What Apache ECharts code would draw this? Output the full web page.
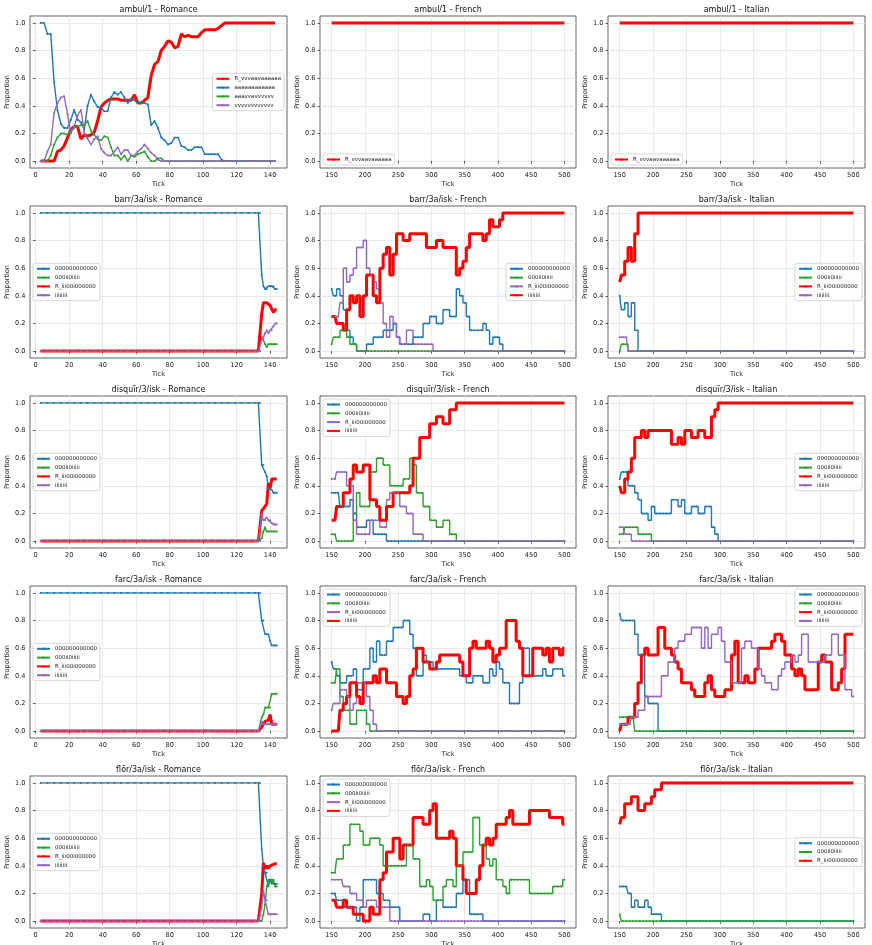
<!DOCTYPE html>
<html><head><meta charset="utf-8">
<script src="https://cdn.jsdelivr.net/npm/echarts@6/dist/echarts.min.js"></script>
<style>html,body{margin:0;padding:0;background:#fff}#c{width:872px;height:945px}</style>
</head><body><div id="c"></div><script>
// ---------- tick (x) arrays ----------
const tickR = [3,5,7,9,11,13,15,17,19,21, 23,25,27,29,31,33,35,37,39,41, 43,45,47,49,51,53,55,57,59,61, 63,65,67,69,71,73,75,77,79,81, 83,85,87,89,91,93,95,97,99,101, 103,105,107,109,111,113,115,117,119,121, 123,125,127,129,131,133,135,137,139,141, 143];
const tickRF = [3,7,11,15,19,23,27,31,35,39, 43,47,51,55,59,63,67,71,75,79, 83,87,91,95,99,103,107,111,115,119, 123,127,131,133,134, 135,136,137,138,139,140,141,142,143,144];
const tickFI = [150,155,160,165,170,175,180,185,190,195, 200,205,210,215,220,225,230,235,240,245, 250,255,260,265,270,275,280,285,290,295, 300,305,310,315,320,325,330,335,340,345, 350,355,360,365,370,375,380,385,390,395, 400,405,410,415,420,425,430,435,440,445, 450,455,460,465,470,475,480,485,490,495, 500];
const xTicksR = [0,20,40,60,80,100,120,140];
const xTicksFI = [150,200,250,300,350,400,450,500];
const yTicks = [0,0.2,0.4,0.6,0.8,1.0];

// ---------- ambul/1 ----------
const ambulR_red = [0,0,0,0,0,.07,.08,.11,.17,.23, .25,.25,.16,.19,.18,.19,.21,.29,.39,.42, .44,.45,.45,.45,.44,.44,.44,.44,.48,.42, .42,.44,.46,.62,.7,.72,.8,.83,.87,.86, .82,.83,.92,.9,.91,.9,.9,.9,.93,.95, .95,.95,.95,.96,.98,1,1,1,1,1, 1,1,1,1,1,1,1,1,1,1, 1];
const ambulR_a = [1,1,.92,.92,.57,.37,.27,.24,.24,.3, .37,.3,.28,.23,.4,.48,.43,.39,.39,.36, .36,.46,.5,.48,.5,.46,.42,.45,.44,.42, .42,.42,.41,.26,.29,.24,.17,.15,.12,.13, .17,.17,.11,.1,.08,.08,.1,.1,.1,.05, .05,.05,.05,.05,.01,0,0,0,0,0, 0,0,0,0,0,0,0,0,0,0, 0];
const ambulR_av = [0,0,0,.04,.12,.17,.2,.2,.19,.22, .24,.25,.26,.26,.29,.22,.19,.16,.15,.18, .17,.1,.04,.04,.01,.04,0,.04,.03,.05, .06,.07,.03,0,0,.02,.02,0,0,0, 0,0,0,0,0,0,0,0,0,0, 0,0,0,0,0,0,0,0,0,0, 0,0,0,0,0,0,0,0,0,0, 0];
const ambulR_v = [0,0,.07,.12,.35,.42,.46,.47,.34,.2, .25,.33,.37,.21,.16,.12,.16,.18,.09,.06, .04,.04,.07,.1,.05,.08,.08,.04,.04,.07, .09,.12,.09,.06,.04,.01,0,0,0,0, 0,0,0,0,0,0,0,0,0,0, 0,0,0,0,0,0,0,0,0,0, 0,0,0,0,0,0,0,0,0,0, 0];
const ambulF_red = [1,1,1,1,1,1,1,1,1,1, 1,1,1,1,1,1,1,1,1,1, 1,1,1,1,1,1,1,1,1,1, 1,1,1,1,1,1,1,1,1,1, 1,1,1,1,1,1,1,1,1,1, 1,1,1,1,1,1,1,1,1,1, 1,1,1,1,1,1,1,1,1,1, 1];
const ambulI_red = [1,1,1,1,1,1,1,1,1,1, 1,1,1,1,1,1,1,1,1,1, 1,1,1,1,1,1,1,1,1,1, 1,1,1,1,1,1,1,1,1,1, 1,1,1,1,1,1,1,1,1,1, 1,1,1,1,1,1,1,1,1,1, 1,1,1,1,1,1,1,1,1,1, 1];

// ---------- barr/3a/isk ----------
const barrR_0 = [1,1,1,1,1,1,1,1,1,1, 1,1,1,1,1,1,1,1,1,1, 1,1,1,1,1,1,1,1,1,1, 1,1,1,1,1, .55,.47,.45,.45,.47,.47,.47,.47,.45,.45];
const barrR_g = [0,0,0,0,0,0,0,0,0,0, 0,0,0,0,0,0,0,0,0,0, 0,0,0,0,0,0,0,0,0,0, 0,0,0,0,0, .1,.08,.05,.03,.05,.05,.05,.05,.05,.05];
const barrR_R = [0,0,0,0,0,0,0,0,0,0, 0,0,0,0,0,0,0,0,0,0, 0,0,0,0,0,0,0,0,0,0, 0,0,0,0,0, .27,.35,.35,.35,.35,.33,.32,.28,.3,.3];
const barrR_i = [0,0,0,0,0,0,0,0,0,0, 0,0,0,0,0,0,0,0,0,0, 0,0,0,0,0,0,0,0,0,0, 0,0,0,0,0, .08,.1,.13,.15,.13,.15,.15,.18,.2,.2];
const barrF_0 = [.45,.4,.45,.4,.3,.15,.1,.05,0,0, 0,.05,.05,.1,.1,.1,.15,.15,.15,.2, .1,.05,.05,.05,.05,.1,.1,.1,.2,.2, .25,.25,.2,.2,.3,.3,.25,.25,.45,.4, .35,.25,.15,.15,.15,.15,.2,.15,.05,.1, .1,.05,0,0,0,0,0,0,0,0, 0,0,0,0,0,0,0,0,0,0, 0];
const barrF_g = [.05,.1,.1,.15,.15,.1,.05,.05,0,0, 0,0,0,0,0,0,0,0,0,0, 0,0,0,0,0,0,0,0,0,0, 0,0,0,0,0,0,0,0,0,0, 0,0,0,0,0,0,0,0,0,0, 0,0,0,0,0,0,0,0,0,0, 0,0,0,0,0,0,0,0,0,0, 0];
const barrF_R = [.25,.25,.25,.35,.6,.5,.55,.6,.75,.75, .8,.6,.55,.5,.45,.35,.2,.1,.25,.2, .1,.05,.05,.15,.15,.05,.05,.05,.05,.05, .05,0,0,0,0,0,0,0,0,0, 0,0,0,0,0,0,0,0,0,0, 0,0,0,0,0,0,0,0,0,0, 0,0,0,0,0,0,0,0,0,0, 0];
const barrF_i = [.25,.25,.2,.2,.15,.3,.4,.35,.4,.25, .4,.55,.55,.4,.35,.6,.7,.75,.55,.7, .85,.85,.8,.8,.85,.85,.85,.85,.85,.75, .75,.75,.8,.8,.75,.75,.75,.75,.55,.6, .65,.75,.85,.85,.85,.85,.8,.85,.95,.9, .9,.95,1,1,1,1,1,1,1,1, 1,1,1,1,1,1,1,1,1,1, 1];
const barrI_0 = [.4,.3,.35,.25,.35,.15,0,0,0,0, 0,0,0,0,0,0,0,0,0,0, 0,0,0,0,0,0,0,0,0,0, 0,0,0,0,0,0,0,0,0,0, 0,0,0,0,0,0,0,0,0,0, 0,0,0,0,0,0,0,0,0,0, 0,0,0,0,0,0,0,0,0,0, 0];
const barrI_g = [0,.05,.05,0,0,0,0,0,0,0, 0,0,0,0,0,0,0,0,0,0, 0,0,0,0,0,0,0,0,0,0, 0,0,0,0,0,0,0,0,0,0, 0,0,0,0,0,0,0,0,0,0, 0,0,0,0,0,0,0,0,0,0, 0,0,0,0,0,0,0,0,0,0, 0];
const barrI_R = [.5,.55,.65,.75,.65,.85,1,1,1,1, 1,1,1,1,1,1,1,1,1,1, 1,1,1,1,1,1,1,1,1,1, 1,1,1,1,1,1,1,1,1,1, 1,1,1,1,1,1,1,1,1,1, 1,1,1,1,1,1,1,1,1,1, 1,1,1,1,1,1,1,1,1,1, 1];
const barrI_i = [.1,.1,.1,0,0,0,0,0,0,0, 0,0,0,0,0,0,0,0,0,0, 0,0,0,0,0,0,0,0,0,0, 0,0,0,0,0,0,0,0,0,0, 0,0,0,0,0,0,0,0,0,0, 0,0,0,0,0,0,0,0,0,0, 0,0,0,0,0,0,0,0,0,0, 0];

// ---------- disquīr/3/isk ----------
const disqR_0 = [1,1,1,1,1,1,1,1,1,1, 1,1,1,1,1,1,1,1,1,1, 1,1,1,1,1,1,1,1,1,1, 1,1,1,1,1, .55,.55,.5,.47,.38,.38,.37,.35,.35,.35];
const disqR_g = [0,0,0,0,0,0,0,0,0,0, 0,0,0,0,0,0,0,0,0,0, 0,0,0,0,0,0,0,0,0,0, 0,0,0,0,0, .02,.07,.1,.07,.07,.07,.07,.07,.07,.07];
const disqR_R = [0,0,0,0,0,0,0,0,0,0, 0,0,0,0,0,0,0,0,0,0, 0,0,0,0,0,0,0,0,0,0, 0,0,0,0,0, .22,.22,.25,.27,.42,.38,.45,.45,.45,.45];
const disqR_i = [0,0,0,0,0,0,0,0,0,0, 0,0,0,0,0,0,0,0,0,0, 0,0,0,0,0,0,0,0,0,0, 0,0,0,0,0, .2,.15,.15,.17,.15,.15,.13,.12,.12,.12];
const disqF_0 = [.35,.35,.35,.25,.25,.25,.3,.2,.1,.1, .1,.15,.15,.05,.05,.05,.05,0,0,0, 0,0,0,0,0,0,0,0,0,0, 0,0,0,0,0,0,0,0,0,0, 0,0,0,0,0,0,0,0,0,0, 0,0,0,0,0,0,0,0,0,0, 0,0,0,0,0,0,0,0,0,0, 0];
const disqF_g = [.05,.05,0,0,0,0,0,.2,.35,.25, .25,.25,.5,.5,.6,.6,.55,.55,.4,.4, .4,.4,.45,.45,.6,.55,.35,.35,.25,.25, .15,.15,.1,.1,.15,.15,.05,.05,0,0, 0,0,0,0,0,0,0,0,0,0, 0,0,0,0,0,0,0,0,0,0, 0,0,0,0,0,0,0,0,0,0, 0];
const disqF_R = [.45,.45,.5,.5,.5,.4,.4,.15,.05,.05, .05,.05,.15,.15,.15,.1,.1,.3,.35,.35, .35,.25,.25,.2,.2,.05,.05,.05,0,0, 0,0,0,0,0,0,0,0,0,0, 0,0,0,0,0,0,0,0,0,0, 0,0,0,0,0,0,0,0,0,0, 0,0,0,0,0,0,0,0,0,0, 0];
const disqF_i = [.15,.15,.25,.25,.35,.35,.45,.55,.5,.5, .55,.55,.3,.3,.25,.15,.15,.25,.25,.35, .35,.35,.35,.35,.4,.6,.6,.75,.75,.75, .85,.85,.9,.9,.85,.85,.95,.95,1,1, 1,1,1,1,1,1,1,1,1,1, 1,1,1,1,1,1,1,1,1,1, 1,1,1,1,1,1,1,1,1,1, 1];
const disqI_0 = [.45,.5,.5,.4,.4,.35,.3,.2,.2,.15, .25,.2,.2,.2,.2,.2,.3,.3,.25,.3, .2,.2,.25,.25,.2,.2,.25,.25,.1,.05, 0,0,0,0,0,0,0,0,0,0, 0,0,0,0,0,0,0,0,0,0, 0,0,0,0,0,0,0,0,0,0, 0,0,0,0,0,0,0,0,0,0, 0];
const disqI_g = [.05,.05,.1,.1,.1,.1,.05,.05,.05,.05, 0,0,0,0,0,0,0,0,0,0, 0,0,0,0,0,0,0,0,0,0, 0,0,0,0,0,0,0,0,0,0, 0,0,0,0,0,0,0,0,0,0, 0,0,0,0,0,0,0,0,0,0, 0,0,0,0,0,0,0,0,0,0, 0];
const disqI_R = [.4,.35,.45,.5,.6,.75,.75,.8,.75,.8, .8,.8,.8,.8,.8,.8,.7,.7,.75,.7, .8,.8,.75,.75,.8,.8,.75,.75,.9,.95, 1,1,1,1,1,1,1,1,1,1, 1,1,1,1,1,1,1,1,1,1, 1,1,1,1,1,1,1,1,1,1, 1,1,1,1,1,1,1,1,1,1, 1];
const disqI_i = [.1,.1,.05,.05,0,0,0,0,0,0, 0,0,0,0,0,0,0,0,0,0, 0,0,0,0,0,0,0,0,0,0, 0,0,0,0,0,0,0,0,0,0, 0,0,0,0,0,0,0,0,0,0, 0,0,0,0,0,0,0,0,0,0, 0,0,0,0,0,0,0,0,0,0, 0];

// ---------- farc/3a/isk ----------
const farcR_0 = [1,1,1,1,1,1,1,1,1,1, 1,1,1,1,1,1,1,1,1,1, 1,1,1,1,1,1,1,1,1,1, 1,1,1,1,1, .8,.8,.7,.7,.7,.65,.62,.62,.62,.62];
const farcR_g = [0,0,0,0,0,0,0,0,0,0, 0,0,0,0,0,0,0,0,0,0, 0,0,0,0,0,0,0,0,0,0, 0,0,0,0,0, .1,.12,.17,.17,.17,.17,.27,.27,.27,.27];
const farcR_R = [0,0,0,0,0,0,0,0,0,0, 0,0,0,0,0,0,0,0,0,0, 0,0,0,0,0,0,0,0,0,0, 0,0,0,0,0, .03,.05,.07,.07,.08,.12,.05,.05,.05,.05];
const farcR_i = [0,0,0,0,0,0,0,0,0,0, 0,0,0,0,0,0,0,0,0,0, 0,0,0,0,0,0,0,0,0,0, 0,0,0,0,0, .07,.05,.05,.05,.05,.05,.05,.05,.05,.05];
const farcF_0 = [.5,.45,.4,.35,.35,.4,.4,.45,.3,.3, .45,.45,.6,.5,.65,.55,.55,.65,.65,.75, .75,.75,.8,.8,.7,.6,.4,.4,.55,.5, .5,.45,.45,.45,.45,.45,.45,.45,.45,.4, .4,.35,.35,.4,.4,.4,.35,.35,.45,.4, .5,.45,.35,.35,.2,.2,.2,.35,.6,.6, .4,.4,.4,.4,.45,.4,.4,.45,.45,.45, .4];
const farcF_g = [.35,.35,.45,.25,.15,.15,.05,.05,.15,.15, .15,.05,0,0,0,0,0,0,0,0, 0,0,0,0,0,0,0,0,0,0, 0,0,0,0,0,0,0,0,0,0, 0,0,0,0,0,0,0,0,0,0, 0,0,0,0,0,0,0,0,0,0, 0,0,0,0,0,0,0,0,0,0, 0];
const farcF_R = [.15,.2,.2,.3,.3,.25,.15,.2,.35,.35, .35,.25,.15,.05,0,0,0,0,0,0, 0,0,0,0,0,0,0,0,0,0, 0,0,0,0,0,0,0,0,0,0, 0,0,0,0,0,0,0,0,0,0, 0,0,0,0,0,0,0,0,0,0, 0,0,0,0,0,0,0,0,0,0, 0];
const farcF_i = [0,0,0,.15,.2,.25,.35,.35,.25,.2, .35,.35,.35,.4,.35,.45,.45,.35,.35,.35, .25,.25,.2,.25,.4,.45,.6,.6,.5,.5, .45,.45,.5,.55,.55,.55,.55,.55,.55,.5, .4,.4,.6,.65,.6,.6,.6,.65,.6,.5, .55,.6,.6,.8,.8,.8,.65,.6,.4,.4, .4,.6,.6,.6,.55,.6,.5,.6,.6,.55, .6];
const farcI_0 = [.85,.8,.8,.8,.8,.7,.55,.55,.25,.2, .2,.2,0,0,0,0,0,0,0,0, 0,0,0,0,0,0,0,0,0,0, 0,0,0,0,0,0,0,0,0,0, 0,0,0,0,0,0,0,0,0,0, 0,0,0,0,0,0,0,0,0,0, 0,0,0,0,0,0,0,0,0,0, 0];
const farcI_g = [.1,.1,.1,.1,.1,0,0,0,0,0, 0,0,0,0,0,0,0,0,0,0, 0,0,0,0,0,0,0,0,0,0, 0,0,0,0,0,0,0,0,0,0, 0,0,0,0,0,0,0,0,0,0, 0,0,0,0,0,0,0,0,0,0, 0,0,0,0,0,0,0,0,0,0, 0];
const farcI_R = [0,.05,.05,.1,.1,.2,.35,.55,.6,.55, .55,.55,.75,.75,.6,.6,.55,.5,.45,.35, .35,.35,.3,.25,.25,.25,.35,.4,.3,.25, .25,.25,.3,.3,.55,.65,.35,.35,.4,.35, .35,.45,.6,.6,.6,.6,.65,.7,.7,.65, .55,.55,.45,.4,.45,.4,.3,.3,.3,.3, .5,.55,.5,.5,.3,.3,.35,.45,.7,.7, .7];
const farcI_i = [.05,.05,.05,.05,.1,.1,.15,.15,.25,.25, .25,.25,.25,.4,.4,.5,.5,.6,.65,.65, .7,.7,.75,.75,.75,.6,.75,.6,.7,.7, .75,.65,.5,.5,.35,.35,.35,.6,.65,.65, .6,.6,.45,.4,.35,.35,.3,.3,.4,.45, .5,.5,.55,.5,.55,.7,.7,.5,.5,.5, .5,.5,.55,.55,.7,.7,.55,.55,.3,.3, .25];

// ---------- flōr/3a/isk ----------
const florR_0 = [1,1,1,1,1,1,1,1,1,1, 1,1,1,1,1,1,1,1,1,1, 1,1,1,1,1,1,1,1,1,1, 1,1,1,1,1, .52,.4,.35,.35,.25,.3,.3,.27,.27,.27];
const florR_g = [0,0,0,0,0,0,0,0,0,0, 0,0,0,0,0,0,0,0,0,0, 0,0,0,0,0,0,0,0,0,0, 0,0,0,0,0, 0,.05,.12,.25,.3,.3,.27,.3,.25,.25];
const florR_R = [0,0,0,0,0,0,0,0,0,0, 0,0,0,0,0,0,0,0,0,0, 0,0,0,0,0,0,0,0,0,0, 0,0,0,0,0, .2,.42,.38,.4,.38,.4,.4,.41,.42,.42];
const florR_i = [0,0,0,0,0,0,0,0,0,0, 0,0,0,0,0,0,0,0,0,0, 0,0,0,0,0,0,0,0,0,0, 0,0,0,0,0, .1,.22,.15,.15,.05,.05,.05,.05,.05,.05];
const florF_0 = [.2,.2,.15,.15,.1,.1,.1,.1,0,.1, .3,.3,.3,.3,.2,.2,.15,.15,.1,.1, .1,0,0,0,0,0,0,0,.05,.05, 0,0,.15,.15,.1,.1,.1,.1,.2,.2, .3,.3,.05,.05,.05,.05,0,0,0,0, 0,0,0,0,0,0,0,0,0,0, 0,0,0,0,0,0,0,0,0,0, 0];
const florF_g = [.35,.35,.45,.45,.55,.55,.7,.7,.7,.65, .55,.55,.6,.6,.6,.55,.4,.4,.4,.4, .4,.4,.4,.55,.55,.45,.45,.25,.25,.3, .25,.15,.15,.15,.25,.3,.3,.25,.4,.4, .5,.5,.5,.75,.75,.55,.55,.45,.4,.45, .3,.3,.25,.2,.3,.3,.3,.3,.3,.3, .2,.2,.2,.2,.2,.2,.2,.25,.25,.25, .3];
const florF_R = [.3,.3,.3,.3,.25,.25,.2,.2,.15,.15, .1,.15,.15,.15,.1,.1,.1,.1,0,0, 0,0,0,0,0,0,0,0,0,0, 0,0,0,0,0,0,0,0,0,0, 0,0,0,0,0,0,0,0,0,0, 0,0,0,0,0,0,0,0,0,0, 0,0,0,0,0,0,0,0,0,0, 0];
const florF_i = [.15,.15,.1,.1,.15,.1,.1,.05,.05,.05, 0,0,.1,.05,.05,.3,.35,.5,.5,.6, .6,.45,.55,.55,.55,.75,.75,.75,.7,.7, .8,.85,.6,.6,.6,.6,.65,.6,.4,.4, .3,.2,.2,.2,.3,.4,.55,.6,.55,.6, .7,.7,.7,.75,.8,.7,.7,.7,.7,.7, .8,.8,.8,.8,.8,.8,.75,.75,.75,.75, .7];
const florI_0 = [.25,.25,.25,.2,.1,.15,.1,.1,.15,.1, .05,.05,.05,0,0,0,0,0,0,0, 0,0,0,0,0,0,0,0,0,0, 0,0,0,0,0,0,0,0,0,0, 0,0,0,0,0,0,0,0,0,0, 0,0,0,0,0,0,0,0,0,0, 0,0,0,0,0,0,0,0,0,0, 0];
const florI_g = [.05,0,0,0,0,0,0,0,0,0, 0,0,0,0,0,0,0,0,0,0, 0,0,0,0,0,0,0,0,0,0, 0,0,0,0,0,0,0,0,0,0, 0,0,0,0,0,0,0,0,0,0, 0,0,0,0,0,0,0,0,0,0, 0,0,0,0,0,0,0,0,0,0, 0];
const florI_R = [.7,.75,.85,.85,.9,.9,.8,.8,.85,.85, .9,.95,.95,1,1,1,1,1,1,1, 1,1,1,1,1,1,1,1,1,1, 1,1,1,1,1,1,1,1,1,1, 1,1,1,1,1,1,1,1,1,1, 1,1,1,1,1,1,1,1,1,1, 1,1,1,1,1,1,1,1,1,1, 1];

// ---------- labels ----------
const L_A = ['R_vvvaavaaaaaa','aaaaaaaaaaaa','aaavvavvvvvv','vvvvvvvvvvvv'];
const L_B = ['000000000000','000ii0iiiii','R_iii00i000000','iiiiiiii'];

const panels = [
  {t:'ambul/1 - Romance', k:'R', x:tickR, lg:'cr', s:[[L_A[0],'red',ambulR_red],[L_A[1],'blue',ambulR_a],[L_A[2],'green',ambulR_av],[L_A[3],'purple',ambulR_v]]},
  {t:'ambul/1 - French', k:'F', x:tickFI, lg:'ll', s:[[L_A[0],'red',ambulF_red]]},
  {t:'ambul/1 - Italian', k:'F', x:tickFI, lg:'ll', s:[[L_A[0],'red',ambulI_red]]},
  {t:'barr/3a/isk - Romance', k:'R', x:tickRF, lg:'cl', s:[[L_B[0],'blue',barrR_0],[L_B[1],'green',barrR_g],[L_B[2],'red',barrR_R],[L_B[3],'purple',barrR_i]]},
  {t:'barr/3a/isk - French', k:'F', x:tickFI, lg:'cr', s:[[L_B[0],'blue',barrF_0],[L_B[1],'green',barrF_g],[L_B[2],'purple',barrF_R],[L_B[3],'red',barrF_i]]},
  {t:'barr/3a/isk - Italian', k:'F', x:tickFI, lg:'cr', s:[[L_B[0],'blue',barrI_0],[L_B[1],'green',barrI_g],[L_B[2],'red',barrI_R],[L_B[3],'purple',barrI_i]]},
  {t:'disquīr/3/isk - Romance', k:'R', x:tickRF, lg:'cl', s:[[L_B[0],'blue',disqR_0],[L_B[1],'green',disqR_g],[L_B[2],'red',disqR_R],[L_B[3],'purple',disqR_i]]},
  {t:'disquīr/3/isk - French', k:'F', x:tickFI, lg:'ul', s:[[L_B[0],'blue',disqF_0],[L_B[1],'green',disqF_g],[L_B[2],'purple',disqF_R],[L_B[3],'red',disqF_i]]},
  {t:'disquīr/3/isk - Italian', k:'F', x:tickFI, lg:'cr', s:[[L_B[0],'blue',disqI_0],[L_B[1],'green',disqI_g],[L_B[2],'red',disqI_R],[L_B[3],'purple',disqI_i]]},
  {t:'farc/3a/isk - Romance', k:'R', x:tickRF, lg:'cl', s:[[L_B[0],'blue',farcR_0],[L_B[1],'green',farcR_g],[L_B[2],'red',farcR_R],[L_B[3],'purple',farcR_i]]},
  {t:'farc/3a/isk - French', k:'F', x:tickFI, lg:'ul', s:[[L_B[0],'blue',farcF_0],[L_B[1],'green',farcF_g],[L_B[2],'purple',farcF_R],[L_B[3],'red',farcF_i]]},
  {t:'farc/3a/isk - Italian', k:'F', x:tickFI, lg:'ur', s:[[L_B[0],'blue',farcI_0],[L_B[1],'green',farcI_g],[L_B[2],'red',farcI_R],[L_B[3],'purple',farcI_i]]},
  {t:'flōr/3a/isk - Romance', k:'R', x:tickRF, lg:'cl', s:[[L_B[0],'blue',florR_0],[L_B[1],'green',florR_g],[L_B[2],'red',florR_R],[L_B[3],'purple',florR_i]]},
  {t:'flōr/3a/isk - French', k:'F', x:tickFI, lg:'ul', s:[[L_B[0],'blue',florF_0],[L_B[1],'green',florF_g],[L_B[2],'purple',florF_R],[L_B[3],'red',florF_i]]},
  {t:'flōr/3a/isk - Italian', k:'F', x:tickFI, lg:'cr', s:[[L_B[0],'blue',florI_0],[L_B[1],'green',florI_g],[L_B[2],'red',florI_R]]}
];

// ---------- layout / style ----------
const W = 872;
const FONT = 'DejaVu Sans';
const COLORS = {red:'#ff0000', blue:'#1f77b4', green:'#2ca02c', purple:'#9467bd'};
const colLeft = [30, 320, 608], colW = [257, 256, 257];
const rowTop = [16, 206, 396, 586, 776], rowH = 152;
const LG = {itemH:3, gap:1.8, padV:2, padH:3, lineH:7};

const grids=[], xAxes=[], yAxes=[], series=[], titles=[], legends=[];
panels.forEach((p, i) => {
  const r = Math.floor(i/3), c = i%3;
  const g = {left:colLeft[c], top:rowTop[r], width:colW[c], height:rowH};
  grids.push({left:g.left, top:g.top, width:g.width, height:g.height, show:true, borderColor:'#3a3a3a', borderWidth:0.8, backgroundColor:'transparent', containLabel:false, outerBoundsMode:'none'});
  const isR = p.k === 'R';
  const xt = isR ? xTicksR : xTicksFI;
  xAxes.push({type:'value', gridIndex:i, min: isR ? -3.4 : 132.5, max: isR ? 150.1 : 517.5,
    axisLine:{show:false},
    axisTick:{show:true, length:2.5, lineStyle:{color:'#333', width:0.8}, customValues:xt},
    axisLabel:{customValues:xt, fontSize:6.6, color:'#222', margin:3.5, fontFamily:FONT},
    splitLine:{show:true, lineStyle:{color:'#e4e4e4', width:0.8}},
    name:'Tick', nameLocation:'middle', nameGap:12.5, nameTextStyle:{fontSize:6.6, color:'#222', fontFamily:FONT}
  });
  yAxes.push({type:'value', gridIndex:i, min:-0.05, max:1.05,
    axisLine:{show:false},
    axisTick:{show:true, length:2.5, lineStyle:{color:'#333', width:0.8}, customValues:yTicks},
    axisLabel:{customValues:yTicks, fontSize:6.6, color:'#222', margin:4.5, fontFamily:FONT, formatter:v => v.toFixed(1)},
    splitLine:{show:true, lineStyle:{color:'#e4e4e4', width:0.8}},
    name:'Proportion', nameLocation:'middle', nameGap:18, nameRotate:90, nameTextStyle:{fontSize:6.6, color:'#222', fontFamily:FONT}
  });
  titles.push({text:p.t, left:g.left + g.width/2, top:g.top - 10, textAlign:'center', padding:0,
    textStyle:{fontSize:8, fontWeight:'normal', color:'#111', fontFamily:FONT}});
  const names = [];
  p.s.forEach(([lab, col, ys]) => {
    const nm = i + '|' + lab;
    names.push(nm);
    const red = col === 'red';
    series.push({type:'line', name:nm, xAxisIndex:i, yAxisIndex:i,
      data: p.x.map((x, j) => [x, ys[j]]),
      step: isR ? false : 'middle',
      symbol: red ? 'none' : 'circle', symbolSize: 2, showSymbol: !red,
      lineStyle:{width: red ? 3 : 1.4, color: COLORS[col]},
      itemStyle:{color: COLORS[col]},
      animation:false, silent:true
    });
  });
  const n = p.s.length;
  const h = n*LG.lineH + (n-1)*LG.gap + 2*LG.padV;
  const lgd = {orient:'vertical', data:names, formatter: nm => nm.slice(nm.indexOf('|')+1),
    backgroundColor:'rgba(255,255,255,0.85)', borderColor:'#cccccc', borderWidth:0.8, borderRadius:2,
    padding:[LG.padV, LG.padH], itemGap:LG.gap, itemWidth:13, itemHeight:LG.itemH,
    textStyle:{fontSize:5.5, color:'#222', fontFamily:FONT, lineHeight:LG.lineH},
    selectedMode:false};
  const v = p.lg[0], hz = p.lg[1];
  if (v === 'c') lgd.top = g.top + g.height/2 - h/2;
  else if (v === 'u') lgd.top = g.top + 3;
  else lgd.top = g.top + g.height - 3 - h;
  if (hz === 'l') lgd.left = g.left + 3; else lgd.right = W - (g.left + g.width) + 3;
  legends.push(lgd);
});

const chart = echarts.init(document.getElementById('c'), null, {renderer:'canvas'});
chart.setOption({
  animation:false,
  backgroundColor:'#ffffff',
  textStyle:{fontFamily:FONT},
  title:titles, grid:grids, xAxis:xAxes, yAxis:yAxes, legend:legends, series:series
});
</script></body></html>
